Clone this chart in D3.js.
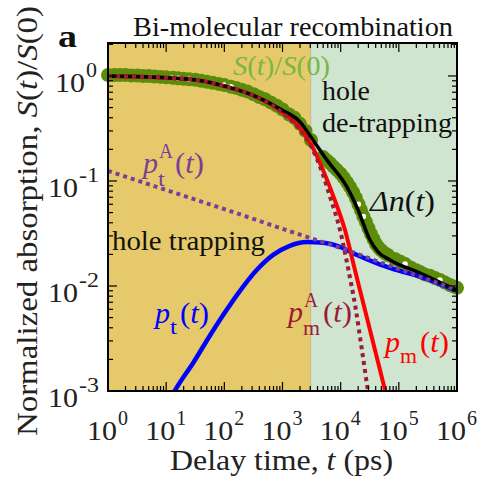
<!DOCTYPE html>
<html>
<head>
<meta charset="utf-8">
<script src="https://cdn.jsdelivr.net/npm/d3@7"></script>
<style>
  body { margin: 0; background: #fff; }
</style>
</head>
<body>
<svg id="vis"></svg>
<script>
const plotWidth = 480;
const plotHeight = 484;
const fontList = "'Liberation Serif', Tinos, 'Times New Roman', 'Liberation Sans', sans-serif";
const svg = d3.select('#vis')
            .attr('width', plotWidth)
            .attr('height', plotHeight)
            .style('font-family', fontList);

// region split between trapping / de-trapping (ps)
const regionBreak = 3050;

// S(t)/S(0) measured points
const sT = [1, 1.3, 1.6, 2, 2.5, 3.2, 4, 5, 6.3, 8, 10, 13, 16, 20, 25, 32, 40, 50, 63, 80,
            100, 130, 160, 200, 250, 320, 400, 500, 630, 800, 1000, 1300, 1600, 2000, 2500, 3090,
            4970, 5700, 6550, 7500, 8650, 10000, 11400, 12900, 14500, 16300, 18300, 20200, 22300, 24600,
            27200, 30000, 33200, 36700, 40500, 44700, 49300, 56000, 65000, 85800,
            105000, 128000, 160000, 200000, 231000, 280000, 343000, 420000, 509000, 620000, 757000, 880000, 1e6];
const sV = [1.02, 1.02, 1.02, 1.02, 1.01, 1.01, 1.0, 1.0, 0.99, 0.98, 0.97, 0.96, 0.95, 0.94, 0.93, 0.92, 0.9, 0.88, 0.86, 0.84,
            0.82, 0.79, 0.77, 0.74, 0.71, 0.67, 0.63, 0.6, 0.56, 0.52, 0.48, 0.43, 0.4, 0.35, 0.3, 0.246,
            0.169, 0.158, 0.148, 0.137, 0.127, 0.117, 0.107, 0.097, 0.0877, 0.078, 0.0689, 0.06, 0.053, 0.046,
            0.0407, 0.0355, 0.0313, 0.028, 0.0251, 0.0233, 0.022, 0.0207, 0.0197, 0.0181,
            0.0171, 0.0162, 0.015, 0.0141, 0.0136, 0.0129, 0.0125, 0.0119, 0.0114, 0.0108, 0.0102, 0.0099, 0.0096];
// points where the open circle shows through
const sOpen = [13, 16, 25, 100, 130, 3090, 20200, 24600, 128000, 509000];

// Δn(t)
const dnT = [1, 10, 40, 100, 300, 980, 2000, 3340, 5820, 12800, 19900, 31900, 43800, 70500, 231000, 1e6];
const dnV = [1.0, 0.96, 0.9, 0.8, 0.66, 0.475, 0.365, 0.246, 0.158, 0.0877, 0.053, 0.0274, 0.0211, 0.0177, 0.0133, 0.0091];

// p_m(t)
const pmT = [1, 10, 40, 100, 300, 980, 2000, 3340, 4970, 7680, 11870, 17600, 26200, 38900, 57800, 70500];
const pmV = [1.0, 0.96, 0.9, 0.8, 0.66, 0.454, 0.32, 0.206, 0.127, 0.0689, 0.0341, 0.0142, 0.0059, 0.00246, 0.00102, 0.00065];

// p_m^A(t)
const pmaT = [1, 10, 40, 100, 300, 980, 2000, 3340, 4770, 6820, 9750, 13400, 18300, 23200, 29500, 34500];
const pmaV = [1.0, 0.96, 0.9, 0.8, 0.66, 0.45, 0.31, 0.197, 0.122, 0.066, 0.0341, 0.0148, 0.0059, 0.00246, 0.001, 0.00059];

// p_t(t)
const ptT = [10, 14, 30, 57, 100, 186, 360, 690, 1300, 2630, 5000, 9700, 20000, 48000, 1e5, 2.3e5, 1e6];
const ptV = [0.0007, 0.001, 0.0019, 0.0034, 0.0055, 0.009, 0.0142, 0.0198, 0.024, 0.0262, 0.0258, 0.0236, 0.0195, 0.016, 0.014, 0.0123, 0.009];

// p_t^A(t)
const ptaT = [1, 10, 100, 1000, 1e4, 1e5, 1e6];
const ptaV = [0.125, 0.082, 0.054, 0.035, 0.023, 0.0145, 0.0092];

const xDecades = [0, 1, 2, 3, 4, 5, 6];
const yDecades = [-3, -2, -1, 0];

const pLeft = 108, pRight = 457, pTop = 43, pBottom = 391;
const x = d3.scaleLog().domain([1, 1e6]).range([pLeft, pRight]);
const y = d3.scaleLog().domain([1e-3, Math.pow(10, 0.314)]).range([pBottom, pTop]);

function main() {
    drawBackground();
    drawCurves();
    drawAxes();
    drawLabels();
}

function drawBackground() {
    svg.append('rect')
        .attr('x', x(1)).attr('y', pTop)
        .attr('width', x(regionBreak) - x(1)).attr('height', pBottom - pTop)
        .attr('fill', '#e5c96a');
    svg.append('rect')
        .attr('x', x(regionBreak)).attr('y', pTop)
        .attr('width', x(1e6) - x(regionBreak)).attr('height', pBottom - pTop)
        .attr('fill', '#cfe5cf');
    svg.append('line')
        .attr('x1', x(regionBreak)).attr('x2', x(regionBreak))
        .attr('y1', pTop).attr('y2', pBottom)
        .attr('stroke', '#c8b48c').attr('stroke-width', 1);
}

function pairs(ts, vs) {
    return ts.map((t, i) => [t, vs[i]]);
}

function drawCurves() {
    svg.append('clipPath').attr('id', 'plotclip')
        .append('rect').attr('x', pLeft).attr('y', pTop)
        .attr('width', pRight - pLeft).attr('height', pBottom - pTop);

    const line = d3.line()
        .x(d => x(d[0]))
        .y(d => y(d[1]))
        .curve(d3.curveMonotoneX);

    // measured data (not clipped, circles spill over the frame)
    const sData = pairs(sT, sV);
    svg.append('g').selectAll('circle').data(sData).enter()
        .append('circle')
        .attr('cx', d => x(d[0]))
        .attr('cy', d => y(d[1]))
        .attr('r', 7)
        .attr('fill', '#5b8c0a');
    svg.append('g').selectAll('circle').data(sData.filter(d => sOpen.includes(d[0]))).enter()
        .append('circle')
        .attr('cx', d => x(d[0]))
        .attr('cy', d => y(d[1]))
        .attr('r', 4.5)
        .attr('fill', '#fff')
        .attr('stroke', '#5b8c0a')
        .attr('stroke-width', 3.5);

    const g = svg.append('g').attr('clip-path', 'url(#plotclip)');

    g.append('path').attr('d', line(pairs(ptT, ptV)))
        .attr('fill', 'none').attr('stroke', '#0000ff').attr('stroke-width', 4.5);
    g.append('path').attr('d', line(pairs(pmT, pmV)))
        .attr('fill', 'none').attr('stroke', '#ff0000').attr('stroke-width', 4);
    g.append('path').attr('d', line(pairs(dnT, dnV)))
        .attr('fill', 'none').attr('stroke', '#000').attr('stroke-width', 3.5);
    g.append('path').attr('d', line(pairs(pmaT, pmaV)))
        .attr('fill', 'none').attr('stroke', '#9b1b3a').attr('stroke-width', 4)
        .attr('stroke-dasharray', '4,4');
    g.append('path').attr('d', line(pairs(ptaT, ptaV)))
        .attr('fill', 'none').attr('stroke', '#7b3f98').attr('stroke-width', 4)
        .attr('stroke-dasharray', '4,4');
}

// text squeezed to the width it has in the picture
function fitText(px, py, size, width, fill) {
    return svg.append('text').attr('x', px).attr('y', py)
        .attr('font-size', size).attr('fill', fill)
        .attr('textLength', width).attr('lengthAdjust', 'spacingAndGlyphs');
}

function drawAxes() {
    const ax = svg.append('g').attr('stroke', '#000');
    const majorLen = 9, minorLen = 5;

    xDecades.forEach(k => {
        for (let m = 1; m <= 9; m++) {
            const t = m * Math.pow(10, k);
            if (t > 1e6) break;
            const len = m === 1 ? majorLen : minorLen;
            const px = x(t);
            ax.append('line').attr('x1', px).attr('x2', px).attr('y1', pBottom).attr('y2', pBottom - len).attr('stroke-width', 1.2);
            ax.append('line').attr('x1', px).attr('x2', px).attr('y1', pTop).attr('y2', pTop + len).attr('stroke-width', 1.2);
        }
    });
    yDecades.forEach(k => {
        for (let m = 1; m <= 9; m++) {
            const v = m * Math.pow(10, k);
            if (v > y.domain()[1]) break;
            const len = m === 1 ? majorLen : minorLen;
            const py = y(v);
            ax.append('line').attr('y1', py).attr('y2', py).attr('x1', pLeft).attr('x2', pLeft + len).attr('stroke-width', 1.2);
            ax.append('line').attr('y1', py).attr('y2', py).attr('x1', pRight).attr('x2', pRight - len).attr('stroke-width', 1.2);
        }
    });

    svg.append('rect')
        .attr('x', pLeft).attr('y', pTop)
        .attr('width', pRight - pLeft).attr('height', pBottom - pTop)
        .attr('fill', 'none').attr('stroke', '#000').attr('stroke-width', 2);

    // tick labels: "10" plus raised exponent
    xDecades.forEach(k => {
        const px = x(Math.pow(10, k));
        fitText(px - 21, 440, 28, 30, '#222').text('10');
        fitText(px + 10, 425, 20, 10, '#222').text(k);
    });
    yDecades.forEach(k => {
        const py = y(Math.pow(10, k));
        if (k === 0) {
            fitText(55, py + 16, 28, 30, '#222').text('10');
            fitText(86, py + 1, 20, 11, '#222').text(k);
        } else {
            fitText(48, py + 16, 28, 30, '#222').text('10');
            fitText(79, py + 1, 20, 20, '#222').text('-' + (-k));
        }
    });

    // axis titles
    const xl = fitText(170, 470, 30, 223, '#222');
    xl.append('tspan').text('Delay time, ');
    xl.append('tspan').attr('font-style', 'italic').text('t');
    xl.append('tspan').text(' (ps)');

    const yl = svg.append('text')
        .attr('transform', 'translate(37,221) rotate(-90)')
        .attr('x', -215).attr('y', 0)
        .attr('font-size', 30).attr('fill', '#222')
        .attr('textLength', 430).attr('lengthAdjust', 'spacingAndGlyphs');
    yl.append('tspan').text('Normalized absorption, ');
    yl.append('tspan').attr('font-style', 'italic').text('S');
    yl.append('tspan').text('(');
    yl.append('tspan').attr('font-style', 'italic').text('t');
    yl.append('tspan').text(')/');
    yl.append('tspan').attr('font-style', 'italic').text('S');
    yl.append('tspan').text('(0)');
}

// p_sub^sup(t) label, with the script letters stacked after the italic p
function pLabel(px, py, sub, sup, color) {
    fitText(px, py, 30, 15, color).attr('font-style', 'italic').text('p');
    const subW = sub === 'm' ? 17 : 7;
    const supW = sup ? 14 : 0;
    if (sup) {
        fitText(px + 16, py - 15, 20, supW, color).text(sup);
        fitText(px + 15, py + 13, 20, subW, color).text(sub);
    } else {
        fitText(px + 15, py + 11, 20, subW, color).text(sub);
    }
    const rest = fitText(px + 15 + Math.max(subW, supW) + 3, py, 30, 29, color);
    rest.append('tspan').text('(');
    rest.append('tspan').attr('font-style', 'italic').text('t');
    rest.append('tspan').text(')');
}

function drawLabels() {
    fitText(133, 36, 27, 320, '#111').text('Bi-molecular recombination');
    fitText(58, 47, 32, 19, '#111').attr('font-weight', 'bold').text('a');

    const s = fitText(233, 75, 27, 97, '#7ab642');
    s.append('tspan').attr('font-style', 'italic').text('S');
    s.append('tspan').text('(');
    s.append('tspan').attr('font-style', 'italic').text('t');
    s.append('tspan').text(')/');
    s.append('tspan').attr('font-style', 'italic').text('S');
    s.append('tspan').text('(0)');

    fitText(322, 100, 27, 48, '#111').text('hole');
    fitText(322, 132, 27, 130, '#111').text('de-trapping');
    fitText(112, 250, 27, 153, '#111').text('hole trapping');

    const dn = fitText(370, 211, 29, 65, '#111');
    dn.append('tspan').attr('font-style', 'italic').text('Δn');
    dn.append('tspan').text('(');
    dn.append('tspan').attr('font-style', 'italic').text('t');
    dn.append('tspan').text(')');

    pLabel(143, 173, 't', 'A', '#7b3f98');
    pLabel(155, 323, 't', null, '#0000ff');
    pLabel(288, 322, 'm', 'A', '#9b1b3a');
    pLabel(385, 352, 'm', null, '#ff0000');
}

main()
</script>
</body>
</html>
